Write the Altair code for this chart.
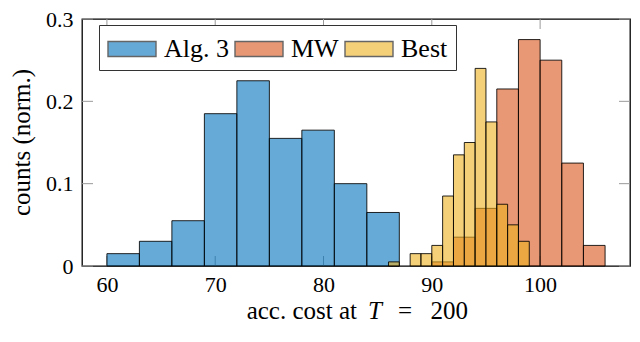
import altair as alt
import pandas as pd

# ---- data ----
series = ["Alg. 3", "MW", "Best"]
colors = ["#0072BD", "#D95319", "#EDB120"]

alg_lo = [60, 63, 66, 69, 72, 75, 78, 81, 84]
alg_hi = [63, 66, 69, 72, 75, 78, 81, 84, 87]
alg_val = [0.015, 0.03, 0.055, 0.185, 0.225, 0.155, 0.165, 0.1, 0.065]

mw_lo = [90, 92, 94, 96, 98, 100, 102, 104]
mw_hi = [92, 94, 96, 98, 100, 102, 104, 106]
mw_val = [0.005, 0.035, 0.07, 0.215, 0.275, 0.25, 0.125, 0.025]

best_lo = [86, 88, 89, 90, 91, 92, 93, 94, 95, 96, 97, 98]
best_hi = [87, 89, 90, 91, 92, 93, 94, 95, 96, 97, 98, 99]
best_val = [0.005, 0.015, 0.015, 0.025, 0.085, 0.135, 0.15, 0.24, 0.175, 0.075, 0.05, 0.03]

x_ticks = [60, 70, 80, 90, 100]
y_ticks = [0, 0.1, 0.2, 0.3]
x_domain = [57.7, 108.3]
y_domain = [0, 0.3]

FONT = "Liberation Serif"
W, H = 548, 247

rows = []
for k, (name, lo, hi, val) in enumerate([
    (series[0], alg_lo, alg_hi, alg_val),
    (series[1], mw_lo, mw_hi, mw_val),
    (series[2], best_lo, best_hi, best_val),
]):
    for a, b, v in zip(lo, hi, val):
        rows.append({"series": name, "lo": a, "hi": b, "val": v, "k": k})
df = pd.DataFrame(rows)

xs = alt.Scale(domain=x_domain, nice=False, zero=False)
ys = alt.Scale(domain=y_domain, nice=False, zero=False)

x_axis = alt.Axis(values=x_ticks, ticks=False, domain=False, grid=False, title=None,
                  labelFont=FONT, labelFontSize=22, labelColor="black",
                  labelPadding=8, labelFlush=False)
y_axis = alt.Axis(values=y_ticks, format=".1~f", ticks=False, domain=False,
                  grid=False, title=None, labelFont=FONT, labelFontSize=22,
                  labelColor="black", labelPadding=9)

legend = alt.Legend(
    orient="none", legendX=17, legendY=6, direction="horizontal", title=None,
    symbolType="M-1.6,-0.5L1.6,-0.5L1.6,0.5L-1.6,0.5Z", symbolSize=900,
    symbolStrokeColor="black", symbolStrokeWidth=1.4, symbolOffset=9,
    symbolOpacity=0.6,
    labelOffset=16, labelFont=FONT, labelFontSize=26, labelColor="black",
    columnPadding=3, padding=8, strokeColor="#333", fillColor="white",
)

bars = alt.Chart(df).mark_rect(
    fillOpacity=0.6, stroke="black", strokeWidth=1, strokeOpacity=0.85
).encode(
    x=alt.X("lo:Q", scale=xs, axis=x_axis),
    x2="hi:Q",
    y=alt.Y("val:Q", scale=ys, axis=y_axis),
    y2=alt.datum(0),
    color=alt.Color("series:N", scale=alt.Scale(domain=series, range=colors),
                    legend=legend),
    order=alt.Order("k:Q"),
)

xt = pd.DataFrame({"xt": x_ticks})
yt = pd.DataFrame({"yt": y_ticks})
tick_style = dict(color="#9a9a9a", strokeWidth=1)
tick_bottom = alt.Chart(xt).mark_rule(**tick_style).encode(
    x=alt.X("xt:Q", scale=xs, axis=x_axis), y=alt.value(H), y2=alt.value(H - 10))
tick_top = alt.Chart(xt).mark_rule(**tick_style).encode(
    x=alt.X("xt:Q", scale=xs, axis=x_axis), y=alt.value(0), y2=alt.value(10))
tick_left = alt.Chart(yt).mark_rule(**tick_style).encode(
    y=alt.Y("yt:Q", scale=ys, axis=y_axis), x=alt.value(0), x2=alt.value(11))
tick_right = alt.Chart(yt).mark_rule(**tick_style).encode(
    y=alt.Y("yt:Q", scale=ys, axis=y_axis), x=alt.value(W), x2=alt.value(W - 11))

def label(txt, x, y, align="left", style="normal", angle=0, baseline="alphabetic", size=25):
    return alt.Chart(pd.DataFrame({"t": [txt]})).mark_text(
        font=FONT, fontSize=size, fontStyle=style, color="black", align=align,
        baseline=baseline, angle=angle,
    ).encode(text="t:N", x=alt.value(x), y=alt.value(y))

TY = 300
xt1 = label("acc. cost at", 275, TY, align="right")
xt2 = label("T", 286, TY, style="italic")
xt3 = label("=", 316, TY)
xt4 = label("200", 386, TY, align="right")
ytl = label("counts (norm.)", -60, H / 2, align="center", angle=270,
            baseline="middle", size=25)

chart = alt.layer(
    tick_bottom, tick_top, tick_left, tick_right, bars, xt1, xt2, xt3, xt4, ytl
).properties(
    width=W, height=H,
    autosize=alt.AutoSizeParams(type="none"),
    padding={"left": 74, "top": 11, "right": 2, "bottom": 60},
).configure_view(stroke="black", strokeWidth=1.3)

chart.save("out.html", embed_options={"renderer": "svg", "actions": False})
